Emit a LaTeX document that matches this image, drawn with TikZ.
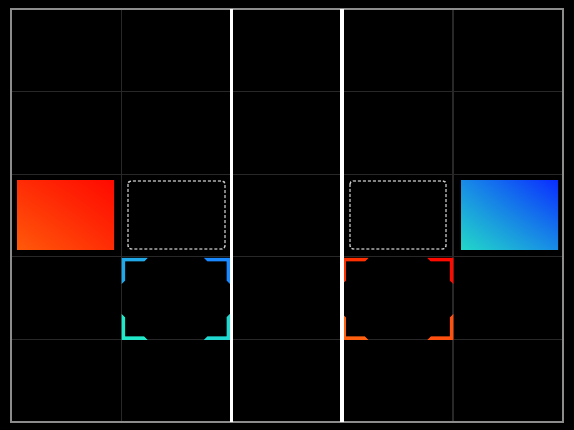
\documentclass[tikz,border=0pt]{standalone}
\usetikzlibrary{shadings}
\definecolor{gridgray}{RGB}{40,40,40}
\definecolor{framegray}{RGB}{140,140,140}
\definecolor{dashgray}{RGB}{200,200,200}
\definecolor{hotred}{RGB}{255,10,0}
\definecolor{hotorange}{RGB}{255,90,10}
\definecolor{hotmid}{RGB}{255,45,5}
\definecolor{coolblue}{RGB}{10,45,255}
\definecolor{coolcyan}{RGB}{34,216,200}
\definecolor{coolmid}{RGB}{24,140,230}
\tikzset{
  pixel/.style={x=1pt,y=-1pt},
  gridline/.style={gridgray,line width=1.3pt},
  divider/.style={white,line width=3.4pt},
  slotbox/.style={dashgray,line width=1.4pt,dash pattern=on 3pt off 2pt,rounded corners=3pt}
}
\begin{document}
\begin{tikzpicture}[pixel]
    \useasboundingbox (0,0) rectangle (574,430);
    \fill[black] (0,0) rectangle (574,430);
    % grid of 5 x 5 cells
    \foreach \x in {121.5,232,342.5,453} \draw[gridline] (\x,9) -- (\x,422);
    \foreach \y in {91.6,174.2,256.8,339.4} \draw[gridline] (11,\y) -- (563,\y);
    \draw[framegray,line width=2pt] (11,9) rectangle (563,422);
    % filled source and target boxes
    \shade[lower left=hotorange,upper right=hotred,upper left=hotmid,lower right=hotmid]
      (17,181) rectangle (114,250);
    \shade[lower left=coolcyan,upper right=coolblue,upper left=coolmid,lower right=coolmid]
      (461,181) rectangle (558,250);
    % empty slots
    \draw[slotbox] (128,181) rectangle (225,249);
    \draw[slotbox] (350,181) rectangle (446,249);
    % corner brackets, outer corner at (cx,cy)
    \def\arm{26}
    \def\thk{3.5}
    \foreach \cx/\cy/\dx/\dy/\col in {121.7/258/1/1/{rgb,255:red,32;green,168;blue,232},
                                      230/258/-1/1/{rgb,255:red,26;green,136;blue,255},
                                      121.7/340/1/-1/{rgb,255:red,32;green,232;blue,200},
                                      230/340/-1/-1/{rgb,255:red,32;green,216;blue,208},
                                      342.3/258/1/1/{rgb,255:red,255;green,48;blue,0},
                                      453.3/258/-1/1/{rgb,255:red,255;green,10;blue,0},
                                      342.3/340/1/-1/{rgb,255:red,255;green,96;blue,16},
                                      453.3/340/-1/-1/{rgb,255:red,255;green,80;blue,16}}
      \fill[color=\col] (\cx,\cy) -- (\cx+\dx*\arm,\cy) -- (\cx+\dx*\arm-\dx*\thk,\cy+\dy*\thk)
        -- (\cx+\dx*\thk,\cy+\dy*\thk) -- (\cx+\dx*\thk,\cy+\dy*\arm-\dy*\thk) -- (\cx,\cy+\dy*\arm) -- cycle;
    % dividers
    \draw[divider] (231.7,9) -- (231.7,422);
    \draw[divider] (342,9) -- (342,422);
  \end{tikzpicture}
\end{document}
